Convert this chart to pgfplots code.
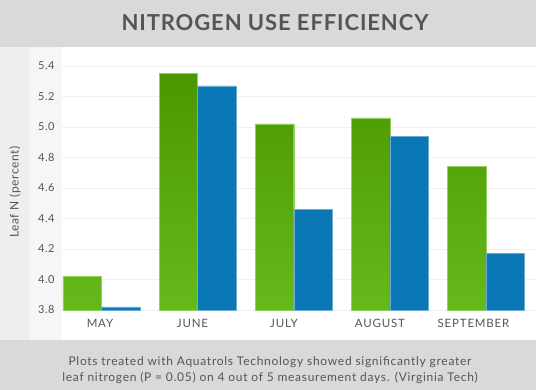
\documentclass[border=0pt]{standalone}
\usepackage{pgfplots}
\pgfplotsset{compat=1.18}
\usepackage{fontspec}
\setmainfont{Lato}
\definecolor{topband}{HTML}{D9D9D9}
\definecolor{leftA}{HTML}{EEEEEE}
\definecolor{leftB}{HTML}{F6F6F6}
\definecolor{txt}{HTML}{555555}
\definecolor{gtop}{HTML}{4A9700}
\definecolor{gbot}{HTML}{65BA1B}
\definecolor{bl}{HTML}{0A78B6}
\definecolor{gridc}{HTML}{F0F0F0}
\begin{document}
\begin{tikzpicture}[x=1pt,y=1pt]
\path[use as bounding box] (0,0) rectangle (536,390);
\fill[leftA] (0,50) rectangle (30,343);
\fill[leftB] (30,50) rectangle (62,343);
\fill[topband] (0,343) rectangle (536,390);
\fill[topband] (0,0) rectangle (536,50);
\node[text=txt,font=\fontsize{22}{24}\selectfont\bfseries\addfontfeature{LetterSpace=4}] at (275,367) {NITROGEN USE EFFICIENCY};
\node[text=txt,align=center,font=\fontsize{12}{16.5}\selectfont\addfontfeature{LetterSpace=6}] at (270,20) {Plots treated with Aquatrols Technology showed significantly greater\\leaf nitrogen (P = 0.05) on 4 out of 5 measurement days. (Virginia Tech)};
\begin{axis}[
  at={(62pt,80pt)}, anchor=south west,
  scale only axis, width=474pt, height=259.25pt,
  xmin=-0.41, xmax=4.52, ymin=3.8, ymax=5.5,
  axis lines=none,
  ytick={3.8,4.0,4.2,4.4,4.6,4.8,5.0,5.2,5.4},
  yticklabel style={/pgf/number format/fixed,/pgf/number format/fixed zerofill,/pgf/number format/precision=1},
  xtick={-0.015,0.947,1.899,2.897,3.87},
  xticklabels={MAY,JUNE,JULY,AUGUST,SEPTEMBER},
  /pgf/number format/assume math mode=true,
  ticklabel style={text=txt},
  yticklabel style={font=\fontsize{11}{12}\selectfont\addfontfeature{LetterSpace=4}, xshift=-4pt},
  xticklabel style={font=\fontsize{11.5}{13}\selectfont\addfontfeature{LetterSpace=7}, yshift=-6pt},
  hide x axis=false, hide y axis=false,
  axis line style={draw=none},
  major tick length=0pt,
  ymajorgrids, grid style={gridc, line width=0.8pt},
  clip=false,
]
\addplot[ybar, bar width=38.5pt, bar shift=-19.25pt, draw=gbot!70!white, line width=0.4pt, top color=gtop, bottom color=gbot]
  coordinates {(0,4.02) (1,5.35) (2,5.02) (3,5.06) (4,4.74)};
\addplot[ybar, bar width=38.5pt, bar shift=19.25pt, draw=bl!60!white, line width=0.4pt, fill=bl]
  coordinates {(0,3.82) (1,5.27) (2,4.46) (3,4.94) (4,4.17)};
\end{axis}
\node[text=txt, rotate=90, font=\fontsize{12}{14}\selectfont\addfontfeature{LetterSpace=5}] at (15,198) {Leaf N (percent)};
\end{tikzpicture}
\end{document}
